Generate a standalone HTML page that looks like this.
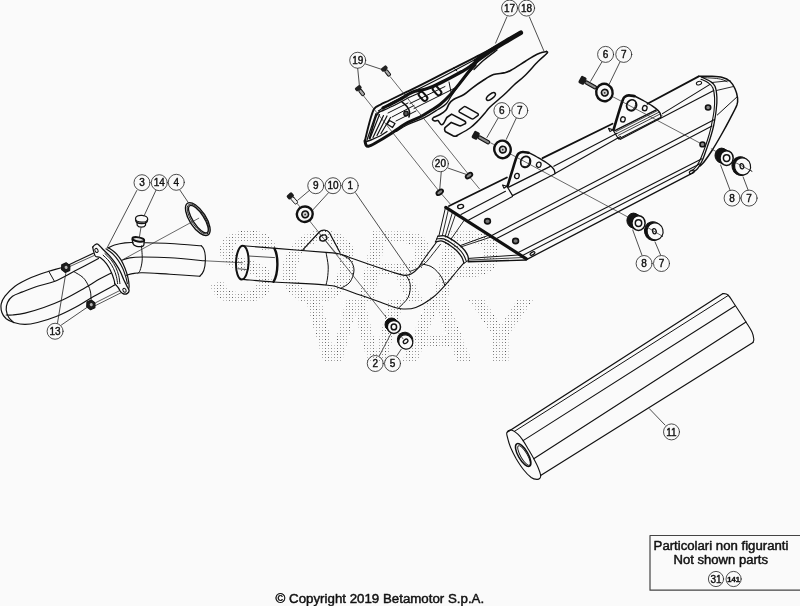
<!DOCTYPE html>
<html><head><meta charset="utf-8"><title>Exhaust</title>
<style>
html,body{margin:0;padding:0;background:#fafafa;}
svg{display:block;will-change:transform}
text{font-family:"Liberation Sans",sans-serif}
</style></head><body>
<svg width="800" height="606" viewBox="0 0 800 606" stroke-linecap="round" stroke-linejoin="round">
<rect width="800" height="606" fill="#fafafa"/>
<defs><pattern id="dots" width="12" height="12" patternUnits="userSpaceOnUse"><rect x="1" y="0" width="1" height="1" fill="#808080"/><rect x="4" y="0" width="1" height="1" fill="#a6a6a6"/><rect x="7" y="0" width="1" height="1" fill="#929292"/><rect x="10" y="0" width="1" height="1" fill="#b6b6b6"/><rect x="1" y="3" width="1" height="1" fill="#505050"/><rect x="4" y="3" width="1" height="1" fill="#9c9c9c"/><rect x="7" y="3" width="1" height="1" fill="#8a8a8a"/><rect x="10" y="3" width="1" height="1" fill="#aeaeae"/><rect x="1" y="6" width="1" height="1" fill="#727272"/><rect x="4" y="6" width="1" height="1" fill="#a2a2a2"/><rect x="7" y="6" width="1" height="1" fill="#c2c2c2"/><rect x="10" y="6" width="1" height="1" fill="#8c8c8c"/><rect x="1" y="9" width="1" height="1" fill="#9a9a9a"/><rect x="4" y="9" width="1" height="1" fill="#626262"/><rect x="7" y="9" width="1" height="1" fill="#b2b2b2"/><rect x="10" y="9" width="1" height="1" fill="#969696"/></pattern></defs>
<g font-weight="bold" fill="url(#dots)" style="font-family:'Liberation Sans',sans-serif">
<text x="209" y="301.5" font-size="102" font-style="italic" textLength="290" lengthAdjust="spacingAndGlyphs">SORP</text>
<text x="305" y="363" font-size="94" textLength="231" lengthAdjust="spacingAndGlyphs">WAY</text>
</g>
<path d="M93.3 253.3 C90.8 254.5 82.7 258.3 78.0 260.5 C73.3 262.7 69.9 264.7 65.0 266.5 C60.1 268.3 54.4 269.4 48.8 271.2 C43.1 273.1 36.9 275.0 31.2 277.5 C25.6 280.0 19.4 283.1 15.0 286.2 C10.6 289.4 7.3 293.3 5.0 296.2 C2.7 299.2 1.8 301.0 1.2 303.8 C0.7 306.5 1.1 310.0 1.9 312.5 C2.7 315.0 4.3 317.1 6.2 318.8 C8.2 320.4 10.6 321.6 13.8 322.5 C16.9 323.4 21.0 324.4 25.0 324.4 C29.0 324.4 32.3 323.8 37.5 322.5 C42.7 321.2 50.0 319.0 56.2 316.5 C62.5 314.0 69.2 310.6 75.0 307.5 C80.8 304.4 84.4 301.8 91.0 298.0 C97.6 294.2 110.8 287.2 114.7 285.0" stroke="#111" stroke-width="1.2" fill="none" />
<path d="M98.5 258.5 C94.5 260.6 81.5 267.5 74.2 271.3 C67.0 275.1 61.1 278.8 55.0 281.2 C48.9 283.7 42.9 284.5 37.5 286.2 C32.1 288.0 26.7 290.2 22.5 291.9 C18.3 293.6 15.0 294.5 12.5 296.2 C10.0 298.0 8.5 300.2 7.5 302.5 C6.5 304.8 6.0 307.5 6.2 310.0 C6.5 312.5 7.5 315.4 8.8 317.5 C10.0 319.6 12.9 321.7 13.8 322.5" stroke="#111" stroke-width="1.2" fill="none" />
<path d="M111.2 272.9 C109.3 273.9 105.0 275.9 100.0 278.8 C95.0 281.6 87.5 286.5 81.2 290.0 C75.0 293.5 68.8 297.1 62.5 300.0 C56.2 302.9 50.0 305.3 43.8 307.5 C37.5 309.7 30.2 311.9 25.0 313.1 C19.8 314.4 15.6 314.7 12.5 315.0 C9.4 315.3 7.3 315.0 6.2 315.0" stroke="#111" stroke-width="1.1" fill="none" />
<line x1="48.75" y1="271.25" x2="54.4" y2="281.25" stroke="#111" stroke-width="1.0"/>
<path d="M74.2 271.8 C75.7 272.8 80.7 275.3 83.0 277.5 C85.3 279.7 86.8 282.6 88.1 285.0 C89.3 287.4 90.0 289.7 90.5 292.0 C91.0 294.3 90.9 297.8 91.0 299.0" stroke="#111" stroke-width="1.0" fill="none" />
<line x1="69.6" y1="266.6" x2="93.9" y2="255.6" stroke="#111" stroke-width="0.7"/>
<line x1="96" y1="302.5" x2="119.3" y2="290.8" stroke="#111" stroke-width="0.7"/>
<line x1="95" y1="305.8" x2="121" y2="292.8" stroke="#111" stroke-width="0.7"/>
<g transform="translate(65.75 267.6) rotate(-25)"><polygon points="-4.6,0 -2.4,-4.3 2.4,-4.3 4.6,0 2.4,4.3 -2.4,4.3" fill="#1d1d1d" stroke="#111" stroke-width="1.1"/><ellipse cx="0.4" cy="0" rx="1.5" ry="1.6" fill="#b5b5b5"/></g>
<g transform="translate(90.9 304.9) rotate(-25)"><polygon points="-4.6,0 -2.4,-4.3 2.4,-4.3 4.6,0 2.4,4.3 -2.4,4.3" fill="#1d1d1d" stroke="#111" stroke-width="1.1"/><ellipse cx="0.4" cy="0" rx="1.5" ry="1.6" fill="#b5b5b5"/></g>
<path d="M92.7 247.1 C93.1 246.7 94.1 245.3 95.0 244.8 C95.9 244.3 96.6 243.4 97.9 244.2 C99.2 245.0 101.1 247.5 103.1 249.5 C105.1 251.5 107.9 254.0 110.0 256.4 C112.1 258.8 114.0 261.3 115.8 263.9 C117.5 266.5 119.2 269.3 120.5 272.0 C121.8 274.7 122.8 277.5 123.9 280.0 C125.1 282.5 126.5 285.2 127.4 287.0 C128.3 288.8 129.1 289.4 129.1 290.5 C129.1 291.6 128.3 292.8 127.4 293.4 C126.5 294.0 125.1 294.3 123.9 294.0 C122.8 293.7 121.5 292.7 120.5 291.6 C119.5 290.5 119.2 288.9 118.2 287.6 C117.2 286.3 115.3 284.3 114.7 283.6" stroke="#111" stroke-width="1.3" fill="none" />
<path d="M92.7 247.1 C92.9 248.0 93.4 250.8 93.9 252.3 C94.4 253.9 94.5 255.5 95.6 256.4 C96.6 257.3 98.4 256.2 100.2 257.5 C102.0 258.8 104.8 261.5 106.6 263.9 C108.4 266.3 110.0 269.3 111.2 272.0 C112.5 274.7 113.5 278.2 114.1 280.1 C114.7 282.0 114.6 283.0 114.7 283.6" stroke="#111" stroke-width="1.2" fill="none" />
<path d="M103.1 255.2 C104.1 256.2 107.2 258.8 108.9 261.0 C110.6 263.2 112.2 265.9 113.5 268.5 C114.8 271.1 115.7 274.1 116.4 276.6 C117.1 279.1 117.4 282.4 117.6 283.6" stroke="#111" stroke-width="1.0" fill="none" />
<path d="M104.9 253.5 C106.0 254.6 109.4 257.6 111.2 259.9 C113.0 262.2 114.5 264.8 115.8 267.4 C117.0 270.0 118.0 272.8 118.7 275.5 C119.4 278.2 119.7 282.2 119.9 283.6" stroke="#111" stroke-width="1.0" fill="none" />
<path d="M106.0 248.9 C107.1 249.7 110.4 251.6 112.4 253.5 C114.4 255.4 116.5 257.9 118.2 260.4 C119.9 262.9 121.5 265.8 122.8 268.5 C124.0 271.2 124.9 274.1 125.7 276.6 C126.5 279.1 127.1 282.4 127.4 283.6" stroke="#111" stroke-width="1.1" fill="none" />
<path d="M108.3 247.7 C109.4 248.5 112.6 250.3 114.7 252.3 C116.8 254.3 119.3 257.2 121.0 259.9 C122.7 262.6 123.9 265.5 125.1 268.5 C126.3 271.5 127.3 274.9 128.0 277.8 C128.7 280.7 129.0 284.0 129.1 285.9 C129.2 287.8 128.7 288.5 128.6 289.0" stroke="#111" stroke-width="1.2" fill="none" />
<ellipse cx="96.5" cy="250.4" rx="1.5" ry="2.1" stroke="#111" stroke-width="1.0" fill="none" transform="rotate(-30 96.5 250.4)"/>
<ellipse cx="124.5" cy="290.3" rx="1.5" ry="2.1" stroke="#111" stroke-width="1.0" fill="none" transform="rotate(-30 124.5 290.3)"/>
<path d="M107.8 248.0 C108.9 247.5 111.6 245.8 114.5 245.0 C117.4 244.2 121.9 243.3 125.0 242.9 C128.1 242.5 131.7 242.6 133.0 242.5" stroke="#111" stroke-width="1.1" fill="none" />
<path d="M144.5 242.7 C148.8 242.8 160.5 243.0 170.0 243.5 C179.5 244.0 196.0 245.4 201.2 245.8" stroke="#111" stroke-width="1.1" fill="none" />
<path d="M122.0 260.3 C123.2 259.9 126.0 258.4 129.5 257.9 C133.0 257.3 136.2 257.0 143.0 257.0 C149.8 257.0 159.7 257.1 170.0 257.8 C180.3 258.4 199.2 260.3 205.0 260.8" stroke="#111" stroke-width="1.1" fill="none" />
<path d="M126.5 275.3 C127.5 275.0 129.8 274.0 132.5 273.6 C135.2 273.2 136.8 272.6 143.0 272.8 C149.2 272.9 160.5 273.7 170.0 274.2 C179.5 274.8 194.8 275.9 199.8 276.2" stroke="#111" stroke-width="1.1" fill="none" />
<path d="M201.25 245.8 C207 250 207 271 199.75 276.25" stroke="#111" stroke-width="1.1" fill="none" />
<path d="M141.5 246.0 C141.6 248.3 142.5 255.9 142.2 260.0 C142.0 264.1 140.8 268.3 140.0 270.5 C139.2 272.7 138.1 272.8 137.8 273.2" stroke="#111" stroke-width="1.0" fill="none" />
<line x1="205" y1="260.8" x2="242.5" y2="262.75" stroke="#2a2a2a" stroke-width="0.7"/>
<path d="M132.2 239.6 L132.9 243.6 C134 246.4 139 247 141.6 246.5 C143 246.2 143.7 245.6 143.9 244.8 L144.2 240.6" stroke="#111" stroke-width="1.3" fill="none" />
<ellipse cx="138.3" cy="239.4" rx="6.0" ry="2.1" stroke="#111" stroke-width="1.9" fill="#e4e4e4" transform="rotate(9 138.3 239.4)"/>
<path d="M137 222.6 L137.2 225.2 C138.5 227.9 144.2 227.9 145.5 225.2 L145.6 222.6" stroke="#111" stroke-width="1.2" fill="none" />
<path d="M135.5 219.6 C135.9 225 147.3 225 147.7 219.6" stroke="#111" stroke-width="1.2" fill="#fafafa" />
<ellipse cx="141.6" cy="218.7" rx="6.1" ry="3.4" stroke="#111" stroke-width="1.2" fill="#fafafa" transform="rotate(3 141.6 218.7)"/>
<line x1="140.9" y1="227.8" x2="139.4" y2="237.2" stroke="#2a2a2a" stroke-width="0.8"/>
<ellipse cx="197.8" cy="219.1" rx="18.9" ry="8.1" stroke="#111" stroke-width="1.4" fill="none" transform="rotate(57 197.8 219.1)"/>
<ellipse cx="198.1" cy="219.1" rx="17.3" ry="6.7" stroke="#111" stroke-width="0.8" fill="none" transform="rotate(57 198.1 219.1)"/>
<ellipse cx="198.4" cy="219.1" rx="16.0" ry="5.5" stroke="#111" stroke-width="1.3" fill="none" transform="rotate(57 198.4 219.1)"/>
<line x1="198.75" y1="218.25" x2="123.5" y2="259.25" stroke="#2a2a2a" stroke-width="0.7"/>
<ellipse cx="242.3" cy="262.6" rx="6.3" ry="16.9" stroke="#111" stroke-width="2.0" fill="none" transform="rotate(2 242.3 262.6)"/>
<path d="M243.3 245.8 C248.8 246.2 262.2 247.3 276.0 248.4 C289.8 249.5 315.3 251.5 326.0 252.4 C336.7 253.3 335.3 252.9 340.0 254.0 C344.7 255.1 347.3 256.7 354.0 259.0 C360.7 261.3 372.3 265.4 380.0 268.0 C387.7 270.6 395.7 273.2 400.0 274.4 C404.3 275.6 404.1 275.4 406.0 275.3 C407.9 275.2 409.5 274.9 411.5 273.7 C413.5 272.5 415.8 270.8 417.9 268.3 C420.0 265.8 422.1 261.8 424.3 258.7 C426.5 255.6 429.0 252.2 431.0 249.5 C433.0 246.8 435.3 243.7 436.2 242.5" stroke="#111" stroke-width="1.1" fill="none" />
<path d="M242.5 279.4 C247.8 279.8 260.1 281.1 274.0 282.0 C287.9 282.9 315.0 284.0 326.0 285.0 C337.0 286.0 334.3 286.3 340.0 288.0 C345.7 289.7 353.3 292.7 360.0 295.0 C366.7 297.3 374.3 300.0 380.0 302.0 C385.7 304.0 390.2 306.0 394.0 307.2 C397.8 308.4 399.4 308.9 403.0 309.0 C406.6 309.1 410.8 309.4 415.8 307.5 C420.8 305.6 428.0 301.2 433.0 297.3 C438.0 293.4 441.9 288.7 445.8 284.4 C449.7 280.1 453.6 275.0 456.5 271.5 C459.4 268.0 462.3 264.7 463.5 263.3" stroke="#111" stroke-width="1.1" fill="none" />
<path d="M274.5 248.6 C278.5 256 278.5 274 273.5 281.8" stroke="#111" stroke-width="2.4" fill="none" />
<line x1="248.5" y1="256" x2="274.5" y2="257.6" stroke="#222" stroke-width="0.8"/>
<line x1="238" y1="268.75" x2="246.25" y2="269.5" stroke="#222" stroke-width="0.8"/>
<path d="M326.0 252.4 C326.4 254.7 327.9 261.7 328.2 266.0 C328.4 270.3 327.9 274.8 327.5 278.0 C327.1 281.2 326.2 283.8 326.0 285.0" stroke="#111" stroke-width="1.0" fill="none" />
<path d="M340.0 254.0 C341.7 255.0 347.7 257.3 350.0 260.0 C352.3 262.7 354.0 266.3 354.0 270.0 C354.0 273.7 352.2 279.0 350.0 282.0 C347.8 285.0 342.5 287.2 341.0 288.2" stroke="#111" stroke-width="1.0" fill="none" />
<path d="M406.0 275.0 C406.7 276.6 409.8 280.7 410.2 284.4 C410.6 288.1 410.1 293.4 408.2 297.3 C406.3 301.2 400.2 306.2 398.6 308.0" stroke="#111" stroke-width="1.0" fill="none" />
<path d="M422.2 264.0 C423.7 264.4 428.5 265.2 431.0 266.5 C433.5 267.8 435.4 269.6 437.2 271.5 C439.0 273.4 440.8 275.8 442.0 278.0 C443.2 280.2 444.2 283.8 444.7 285.0" stroke="#111" stroke-width="1.0" fill="none" />
<path d="M410.0 271.3 C411.0 270.9 413.5 270.3 416.0 269.0 C418.5 267.7 422.2 265.8 425.0 263.2 C427.8 260.7 430.4 256.9 433.0 253.7 C435.6 250.5 439.2 245.8 440.5 244.2" stroke="#111" stroke-width="0.9" fill="none" />
<path d="M303 249.7 L319.3 232 C321.5 229.3 327 229.3 329.3 232.5 L339.8 252.3" stroke="#111" stroke-width="1.2" fill="none" />
<ellipse cx="323.3" cy="238" rx="3.6" ry="2.9" stroke="#111" stroke-width="1.4" fill="none" transform="rotate(-20 323.3 238)"/>
<line x1="309.7" y1="221" x2="386.5" y2="317.7" stroke="#2a2a2a" stroke-width="0.7"/>
<line x1="325.5" y1="240.5" x2="337.5" y2="255" stroke="#2a2a2a" stroke-width="0.7"/>
<g transform="translate(290.7 196.4) rotate(49)"><rect x="-3.2" y="-3.4" width="5.2" height="6.8" rx="1.6" fill="#1c1c1c"/><rect x="1.6" y="-1.7" width="7.6" height="3.4" rx="1" fill="#f0f0f0" stroke="#111" stroke-width="0.9"/></g>
<line x1="297" y1="203.25" x2="300" y2="207" stroke="#2a2a2a" stroke-width="0.7"/>
<g transform="rotate(-20 304.8 214.2)">
<ellipse cx="304.8" cy="214.2" rx="8" ry="7.7" fill="#fafafa" stroke="#111" stroke-width="2.4"/>
<ellipse cx="305.1" cy="214.5" rx="3.3" ry="3.3" fill="#cfcfcf" stroke="#111" stroke-width="1.7"/>
<ellipse cx="305.0" cy="214.6" rx="0.9" ry="0.9" fill="#333" stroke="none"/>
</g>
<ellipse cx="391.59999999999997" cy="324.5" rx="6.6" ry="6.5" fill="#151515" stroke="#111" stroke-width="1"/>
<ellipse cx="392.75" cy="325.7" rx="6.6" ry="6.5" fill="#151515" stroke="#111" stroke-width="1"/>
<ellipse cx="393.9" cy="326.9" rx="6.6" ry="6.5" fill="#fafafa" stroke="#111" stroke-width="1.5"/>
<ellipse cx="393.9" cy="326.9" rx="2.7" ry="2.9000000000000004" fill="#fafafa" stroke="#111" stroke-width="1.5"/>
<g transform="rotate(50 405.6 341.3)">
<ellipse cx="404.40000000000003" cy="340.90000000000003" rx="8" ry="7.6" fill="#111" stroke="#111" stroke-width="1"/>
<ellipse cx="406.20000000000005" cy="341.6" rx="7.4" ry="6.8" fill="#fafafa" stroke="#111" stroke-width="1.2"/>
<ellipse cx="405.6" cy="341.3" rx="1.8" ry="2.6" fill="#fafafa" stroke="#111" stroke-width="1.3"/>
</g>
<line x1="399" y1="333.5" x2="403" y2="338.8" stroke="#2a2a2a" stroke-width="0.7"/>
<path d="M445.6 207.3 L698.75 76.3 L712 76.3 L722.5 77.5 L730 81.25 L735 88.75 L737.5 97.5 L736.9 105 L730 118.75 L721.25 135 L712 150.5 L704 162 L690 174.4 L527 259.3 Z" fill="#fafafa" stroke="none"/>
<line x1="449" y1="206" x2="506.9" y2="177.5" stroke="#111" stroke-width="1.8"/>
<line x1="542.5" y1="158.1" x2="612.5" y2="123.75" stroke="#111" stroke-width="1.8"/>
<line x1="647.5" y1="103.75" x2="698.75" y2="76.4" stroke="#111" stroke-width="1.8"/>
<line x1="461" y1="214.5" x2="505.5" y2="191.3" stroke="#111" stroke-width="1.1"/>
<line x1="553.8" y1="166.2" x2="617" y2="133.3" stroke="#111" stroke-width="1.1"/>
<line x1="662.5" y1="113.6" x2="710" y2="84.4" stroke="#111" stroke-width="1.1"/>
<line x1="468.7" y1="219.9" x2="512.5" y2="196.6" stroke="#111" stroke-width="1.1"/>
<line x1="555" y1="173.4" x2="620.5" y2="136.5" stroke="#111" stroke-width="1.1"/>
<line x1="661.9" y1="115.2" x2="661.9" y2="115.2" stroke="#111" stroke-width="1.1"/>
<line x1="620" y1="139.5" x2="713.75" y2="90.6" stroke="#111" stroke-width="1.1"/>
<line x1="491.8" y1="235.4" x2="714.5" y2="119.5" stroke="#111" stroke-width="1.1"/>
<line x1="496.6" y1="238.6" x2="712" y2="126" stroke="#111" stroke-width="1.1"/>
<line x1="517.8" y1="252.8" x2="701.9" y2="158.75" stroke="#111" stroke-width="1.1"/>
<line x1="522.1" y1="255.7" x2="700" y2="163.75" stroke="#111" stroke-width="1.1"/>
<line x1="527" y1="259.3" x2="690" y2="174.4" stroke="#111" stroke-width="1.3"/>
<path d="M690.0 174.4 C691.2 173.5 695.4 171.2 697.5 168.8 C699.6 166.3 700.8 163.8 702.5 160.0 C704.2 156.2 706.0 150.4 707.5 146.2 C709.0 142.1 710.2 138.5 711.2 135.0 C712.3 131.5 712.9 129.2 713.8 125.0 C714.6 120.8 715.7 114.6 716.2 110.0 C716.8 105.4 717.1 101.5 716.9 97.5 C716.7 93.5 716.1 89.0 715.0 86.2 C713.9 83.5 712.3 82.8 710.0 81.2 C707.7 79.7 702.7 77.6 701.2 76.9" stroke="#111" stroke-width="1.3" fill="none" />
<path d="M692.0 171.0 C692.8 170.1 695.6 167.5 697.0 165.5 C698.4 163.5 699.1 162.2 700.5 159.0 C701.9 155.8 703.9 150.5 705.3 146.5 C706.7 142.5 708.0 138.6 709.0 135.0 C710.0 131.4 710.7 129.0 711.5 125.0 C712.3 121.0 713.5 115.5 714.0 111.0 C714.5 106.5 714.8 101.8 714.6 98.0 C714.4 94.2 713.9 90.5 712.9 88.0 C711.9 85.5 710.5 84.5 708.5 83.0 C706.5 81.5 702.2 79.8 701.0 79.2" stroke="#111" stroke-width="1.1" fill="none" />
<line x1="445.8" y1="207.4" x2="526.3" y2="258.8" stroke="#111" stroke-width="3.2"/>
<path d="M698.8 76.2 C701.0 76.3 708.0 76.1 712.0 76.3 C716.0 76.5 719.5 76.7 722.5 77.5 C725.5 78.3 727.9 79.4 730.0 81.2 C732.1 83.1 733.8 86.0 735.0 88.8 C736.2 91.5 737.2 94.8 737.5 97.5 C737.8 100.2 738.1 101.5 736.9 105.0 C735.6 108.5 732.6 113.8 730.0 118.8 C727.4 123.8 724.2 129.7 721.2 135.0 C718.2 140.3 714.9 146.0 712.0 150.5 C709.1 155.0 706.0 159.4 704.0 162.0 C702.0 164.6 700.7 165.3 700.0 166.0" stroke="#111" stroke-width="1.5" fill="none" />
<path d="M702.0 77.6 C704.0 77.7 710.7 77.9 714.0 78.2 C717.3 78.5 719.8 78.9 722.0 79.5 C724.2 80.1 726.2 81.4 727.0 81.8" stroke="#111" stroke-width="0.9" fill="none" />
<line x1="712" y1="82.5" x2="730" y2="80.6" stroke="#111" stroke-width="0.9"/>
<line x1="716.5" y1="90.5" x2="733.5" y2="86.5" stroke="#111" stroke-width="0.9"/>
<line x1="717.3" y1="115" x2="736.9" y2="97" stroke="#111" stroke-width="1.0"/>
<ellipse cx="699" cy="83.1" rx="2.7" ry="1.7" stroke="#111" stroke-width="1.0" fill="none" transform="rotate(-15 699 83.1)"/>
<ellipse cx="708.1" cy="107.5" rx="2.6" ry="2.5" stroke="#111" stroke-width="1.6" fill="#888"/>
<ellipse cx="702.5" cy="144.4" rx="2.5" ry="2.4" stroke="#111" stroke-width="1.6" fill="#888"/>
<ellipse cx="691.9" cy="171.9" rx="2.7" ry="1.5" stroke="#111" stroke-width="1.2" fill="none" transform="rotate(-30 691.9 171.9)"/>
<ellipse cx="460.6" cy="206.5" rx="3.0" ry="2.0" stroke="#111" stroke-width="1.4" fill="none" transform="rotate(-15 460.6 206.5)"/>
<ellipse cx="487.5" cy="221.25" rx="2.9" ry="2.6" stroke="#111" stroke-width="1.6" fill="#777"/>
<ellipse cx="515.6" cy="241" rx="2.9" ry="2.6" stroke="#111" stroke-width="1.6" fill="#777"/>
<ellipse cx="532.5" cy="253.5" rx="2.6" ry="1.3" stroke="#111" stroke-width="1.2" fill="none" transform="rotate(-28 532.5 253.5)"/>
<line x1="438.9" y1="235.9" x2="445.3" y2="208.3" stroke="#111" stroke-width="1.0"/>
<line x1="442.25" y1="235.9" x2="448.3" y2="210" stroke="#111" stroke-width="0.9"/>
<line x1="445.25" y1="236.25" x2="452.6" y2="211.8" stroke="#111" stroke-width="0.9"/>
<line x1="447.5" y1="237.4" x2="455.5" y2="214.5" stroke="#111" stroke-width="0.9"/>
<line x1="451" y1="239.2" x2="464" y2="220.5" stroke="#111" stroke-width="0.9"/>
<line x1="460.25" y1="245.6" x2="490" y2="234.8" stroke="#111" stroke-width="1.0"/>
<line x1="461" y1="246.9" x2="489.8" y2="237.4" stroke="#111" stroke-width="0.9"/>
<line x1="468.5" y1="258.4" x2="520" y2="254.9" stroke="#111" stroke-width="1.0"/>
<line x1="468.1" y1="261.75" x2="526.25" y2="260" stroke="#111" stroke-width="1.3"/>
<line x1="468.3" y1="260.1" x2="523" y2="257.5" stroke="#111" stroke-width="0.8"/>
<path d="M437.8 236.2 C438.9 236.2 442.1 235.3 444.5 235.9 C446.9 236.5 449.6 238.2 452.0 239.6 C454.4 241.0 456.6 242.7 458.8 244.5 C460.9 246.3 463.2 248.6 464.8 250.5 C466.2 252.4 467.1 254.1 467.8 255.8 C468.4 257.4 468.4 259.5 468.5 260.2" stroke="#111" stroke-width="1.3" fill="none" />
<path d="M437.0 238.9 C438.1 238.9 441.4 238.2 443.8 238.9 C446.1 239.6 448.9 241.4 451.2 243.0 C453.6 244.6 456.0 246.4 458.0 248.2 C460.0 250.1 461.9 252.1 463.2 254.2 C464.6 256.4 465.8 259.9 466.2 261.0" stroke="#111" stroke-width="1.1" fill="none" />
<path d="M435.5 241.9 C436.6 241.8 439.9 240.5 442.2 241.1 C444.6 241.7 447.4 243.7 449.8 245.2 C452.1 246.8 454.5 248.5 456.5 250.5 C458.5 252.5 460.5 255.1 461.8 257.2 C463.0 259.4 463.6 262.2 464.0 263.2" stroke="#111" stroke-width="1.3" fill="none" />
<line x1="437.75" y1="236.25" x2="435.5" y2="241.9" stroke="#111" stroke-width="1.0"/>
<line x1="468.5" y1="260.25" x2="464" y2="263.25" stroke="#111" stroke-width="1.0"/>
<path d="M507.6 186.2 C508.3 183.8 510.5 176.4 512.0 171.5 C513.5 166.6 515.6 159.6 516.8 156.6 C518.0 153.6 518.0 154.1 519.0 153.3 C520.0 152.5 521.2 152.1 522.8 152.0 C524.4 151.9 527.5 152.6 528.5 152.7" stroke="#111" stroke-width="2.6" fill="none" />
<path d="M528.5 152.6 C529.9 153.3 534.0 155.3 537.0 157.0 C540.0 158.7 543.8 160.8 546.2 162.5 C548.7 164.2 550.6 165.7 551.9 166.9 C553.2 168.2 553.7 168.9 554.2 170.0 C554.7 171.1 554.9 172.8 555.0 173.3" stroke="#111" stroke-width="1.4" fill="none" />
<polyline points="506.9,186.2 512.5,195.6 555.0,173.8" stroke="#111" stroke-width="1.2" fill="none"/>
<line x1="508.75" y1="187.2" x2="550.3" y2="166.4" stroke="#111" stroke-width="1.3"/>
<ellipse cx="525.6" cy="161.9" rx="4.9" ry="5.6" stroke="#111" stroke-width="1.7" fill="none" transform="rotate(20 525.6 161.9)"/>
<path d="M523.3 166.3 C526 168 530 165 529.6 159.5" stroke="#111" stroke-width="1.0" fill="none" />
<ellipse cx="538.75" cy="164.75" rx="2.3" ry="2.6" stroke="#111" stroke-width="1.3" fill="none" transform="rotate(15 538.75 164.75)"/>
<ellipse cx="516.9" cy="176" rx="2.3" ry="2.6" stroke="#111" stroke-width="1.3" fill="none" transform="rotate(15 516.9 176)"/>
<path d="M506.9 186.3 L502.5 185 L504 188.2 Z" stroke="#111" stroke-width="1.1" fill="none" />
<path d="M613.6 129.6 C614.3 127.1 616.5 119.8 618.0 114.9 C619.5 110.0 621.6 103.0 622.8 100.0 C624.0 97.0 624.0 97.5 625.0 96.7 C626.0 95.9 627.2 95.5 628.8 95.4 C630.4 95.3 633.5 96.0 634.5 96.1" stroke="#111" stroke-width="2.6" fill="none" />
<path d="M634.5 96.0 C635.9 96.7 640.0 98.8 643.0 100.4 C646.0 102.1 649.8 104.2 652.2 105.9 C654.7 107.6 656.6 109.1 657.9 110.3 C659.2 111.6 659.7 112.3 660.2 113.4 C660.7 114.5 660.9 116.2 661.0 116.7" stroke="#111" stroke-width="1.4" fill="none" />
<polyline points="612.9,129.7 618.5,139.0 661.0,117.2" stroke="#111" stroke-width="1.2" fill="none"/>
<line x1="614.75" y1="130.6" x2="656.3" y2="109.80000000000001" stroke="#111" stroke-width="1.3"/>
<ellipse cx="631.6" cy="105.30000000000001" rx="4.9" ry="5.6" stroke="#111" stroke-width="1.7" fill="none" transform="rotate(20 631.6 105.30000000000001)"/>
<path d="M629.3 109.70000000000002 C632 111.4 636 108.4 635.6 102.9" stroke="#111" stroke-width="1.0" fill="none" />
<ellipse cx="644.75" cy="108.15" rx="2.3" ry="2.6" stroke="#111" stroke-width="1.3" fill="none" transform="rotate(15 644.75 108.15)"/>
<ellipse cx="622.9" cy="119.4" rx="2.3" ry="2.6" stroke="#111" stroke-width="1.3" fill="none" transform="rotate(15 622.9 119.4)"/>
<path d="M612.9 129.70000000000002 L608.5 128.4 L610 131.6 Z" stroke="#111" stroke-width="1.1" fill="none" />
<line x1="616.0" y1="131.5" x2="657.6999999999999" y2="110.5" stroke="#111" stroke-width="0.8"/>
<line x1="617.1999999999999" y1="133.4" x2="659.0" y2="112.2" stroke="#111" stroke-width="0.8"/>
<line x1="618.4" y1="135.29999999999998" x2="660.3" y2="113.89999999999999" stroke="#111" stroke-width="0.8"/>
<line x1="510" y1="153.75" x2="628.75" y2="217.5" stroke="#2a2a2a" stroke-width="0.7"/>
<line x1="645" y1="226" x2="662.5" y2="236.25" stroke="#2a2a2a" stroke-width="0.7"/>
<line x1="613.1" y1="96.9" x2="700" y2="143.1" stroke="#2a2a2a" stroke-width="0.7"/>
<line x1="711.25" y1="148.75" x2="716" y2="151.5" stroke="#2a2a2a" stroke-width="0.7"/>
<line x1="733.5" y1="161.5" x2="751.9" y2="171.25" stroke="#2a2a2a" stroke-width="0.7"/>
<g transform="translate(583.3 80.8) rotate(29)"><rect x="-4" y="-4" width="6.2" height="8" rx="1.6" fill="#1a1a1a"/><rect x="2.2" y="-1.6" width="12.5" height="3.2" rx="1.2" fill="#8a8a8a" stroke="#111" stroke-width="1.1"/></g>
<g transform="translate(476.5 135.8) rotate(29)"><rect x="-4" y="-4" width="6.2" height="8" rx="1.6" fill="#1a1a1a"/><rect x="2.2" y="-1.6" width="12.5" height="3.2" rx="1.2" fill="#8a8a8a" stroke="#111" stroke-width="1.1"/></g>
<line x1="596.5" y1="88" x2="598" y2="89" stroke="#2a2a2a" stroke-width="0.7"/>
<line x1="490.5" y1="142.8" x2="493.5" y2="144.3" stroke="#2a2a2a" stroke-width="0.7"/>
<g transform="rotate(-15 604.4 92.5)">
<ellipse cx="604.4" cy="92.5" rx="8.2" ry="8.8" fill="#fafafa" stroke="#111" stroke-width="2.4"/>
<ellipse cx="604.6999999999999" cy="92.8" rx="3.3" ry="3.3" fill="#cfcfcf" stroke="#111" stroke-width="1.7"/>
<ellipse cx="604.6" cy="92.9" rx="0.9" ry="0.9" fill="#333" stroke="none"/>
</g>
<g transform="rotate(-15 502.5 149.4)">
<ellipse cx="502.5" cy="149.4" rx="8.2" ry="8.8" fill="#fafafa" stroke="#111" stroke-width="2.4"/>
<ellipse cx="502.8" cy="149.70000000000002" rx="3.3" ry="3.3" fill="#cfcfcf" stroke="#111" stroke-width="1.7"/>
<ellipse cx="502.7" cy="149.8" rx="0.9" ry="0.9" fill="#333" stroke="none"/>
</g>
<ellipse cx="721.6" cy="155.5" rx="6.6" ry="7.4" fill="#151515" stroke="#111" stroke-width="1"/>
<ellipse cx="724.1" cy="156.79999999999998" rx="6.6" ry="7.4" fill="#151515" stroke="#111" stroke-width="1"/>
<ellipse cx="726.6" cy="158.1" rx="6.6" ry="7.4" fill="#fafafa" stroke="#111" stroke-width="1.5"/>
<ellipse cx="726.6" cy="158.1" rx="3.2" ry="3.4000000000000004" fill="#fafafa" stroke="#111" stroke-width="1.5"/>
<g transform="rotate(-15 741.9 166.25)">
<ellipse cx="740.6999999999999" cy="165.85" rx="8.6" ry="9.4" fill="#111" stroke="#111" stroke-width="1"/>
<ellipse cx="742.5" cy="166.55" rx="8.0" ry="8.6" fill="#fafafa" stroke="#111" stroke-width="1.2"/>
<ellipse cx="741.9" cy="166.25" rx="1.8" ry="2.6" fill="#fafafa" stroke="#111" stroke-width="1.3"/>
</g>
<ellipse cx="633.5" cy="220.5" rx="6.6" ry="7.4" fill="#151515" stroke="#111" stroke-width="1"/>
<ellipse cx="636.0" cy="221.79999999999998" rx="6.6" ry="7.4" fill="#151515" stroke="#111" stroke-width="1"/>
<ellipse cx="638.5" cy="223.1" rx="6.6" ry="7.4" fill="#fafafa" stroke="#111" stroke-width="1.5"/>
<ellipse cx="638.5" cy="223.1" rx="3.2" ry="3.4000000000000004" fill="#fafafa" stroke="#111" stroke-width="1.5"/>
<g transform="rotate(-15 654.4 231.25)">
<ellipse cx="653.1999999999999" cy="230.85" rx="8.6" ry="9.4" fill="#111" stroke="#111" stroke-width="1"/>
<ellipse cx="655.0" cy="231.55" rx="8.0" ry="8.6" fill="#fafafa" stroke="#111" stroke-width="1.2"/>
<ellipse cx="654.4" cy="231.25" rx="1.8" ry="2.6" fill="#fafafa" stroke="#111" stroke-width="1.3"/>
</g>
<line x1="733.5" y1="161.5" x2="751.9" y2="171.25" stroke="#2a2a2a" stroke-width="0.7"/>
<line x1="645" y1="226" x2="662.5" y2="236.25" stroke="#2a2a2a" stroke-width="0.7"/>
<path d="M365.0 140.5 C365.5 138.4 367.0 131.9 368.0 128.0 C369.0 124.1 370.1 120.0 371.0 117.0 C371.9 114.0 372.7 111.7 373.5 110.0 C374.3 108.3 374.8 108.0 376.0 107.0 C377.2 106.0 378.7 105.5 381.0 104.3 C383.3 103.1 385.5 102.2 390.0 100.0 C394.5 97.8 401.3 94.6 408.0 91.3 C414.7 88.0 422.2 84.3 430.0 80.3 C437.8 76.3 446.7 71.8 455.0 67.5 C463.3 63.2 472.5 58.7 480.0 54.8 C487.5 50.9 493.2 47.8 500.0 44.0 C506.8 40.2 517.2 33.9 520.6 31.9" stroke="#111" stroke-width="1.9" fill="none" />
<path d="M369.5 138.5 C370.1 136.4 371.9 129.7 373.0 126.0 C374.1 122.3 375.1 118.8 376.0 116.5 C376.9 114.2 377.3 113.5 378.5 112.5 C379.7 111.5 382.2 110.8 383.0 110.5" stroke="#111" stroke-width="1.7" fill="none" />
<path d="M378.5 110.8 C380.4 109.6 385.1 106.2 390.0 103.5 C394.9 100.8 401.3 97.7 408.0 94.3 C414.7 90.9 422.2 87.2 430.0 83.2 C437.8 79.2 447.0 74.4 455.0 70.2 C463.0 66.0 474.2 60.0 478.0 58.0" stroke="#111" stroke-width="1.2" fill="none" />
<line x1="453.5" y1="67.8" x2="457" y2="71" stroke="#111" stroke-width="1.0"/>
<path d="M383.0 108.0 C384.5 107.2 389.2 105.0 392.0 103.5 C394.8 102.0 397.3 100.8 400.0 99.3 C402.7 97.8 405.5 95.8 408.0 94.5 C410.5 93.2 412.2 92.2 415.0 91.3 C417.8 90.4 421.3 90.4 425.0 89.3 C428.7 88.2 432.8 86.4 437.0 84.5 C441.2 82.6 445.8 80.2 450.0 78.0 C454.2 75.8 458.7 73.4 462.0 71.5 C465.3 69.6 467.0 68.7 470.0 66.5 C473.0 64.3 478.3 59.8 480.0 58.5" stroke="#111" stroke-width="3.2" fill="none" />
<path d="M383.0 110.5 C385.0 109.6 390.5 107.2 395.0 105.0 C399.5 102.8 406.2 98.9 410.0 97.0 C413.8 95.1 416.7 94.1 418.0 93.5" stroke="#111" stroke-width="1.2" fill="none" />
<path d="M365.0 141.0 C365.2 141.7 365.4 144.1 366.0 145.0 C366.6 145.9 367.0 146.6 368.5 146.3 C370.0 146.0 371.4 145.3 375.0 143.3 C378.6 141.3 385.0 137.5 390.0 134.3 C395.0 131.1 400.0 126.9 405.0 124.0 C410.0 121.1 415.8 119.2 420.0 117.0 C424.2 114.8 426.7 113.1 430.0 111.0 C433.3 108.9 436.7 107.2 440.0 104.5 C443.3 101.8 446.7 98.6 450.0 95.0 C453.3 91.4 456.7 87.2 460.0 83.0 C463.3 78.8 466.7 74.2 470.0 70.0 C473.3 65.8 478.3 59.6 480.0 57.5" stroke="#111" stroke-width="3.0" fill="none" />
<path d="M476.0 61.0 C478.0 59.6 483.2 55.7 488.0 52.5 C492.8 49.3 499.5 45.3 505.0 42.0 C510.5 38.7 518.2 34.2 520.8 32.7" stroke="#111" stroke-width="4.6" fill="none" />
<path d="M474.0 69.5 C475.7 67.9 480.2 63.2 484.0 60.0 C487.8 56.8 494.8 51.7 497.0 50.0" stroke="#111" stroke-width="1.4" fill="none" />
<path d="M476.0 65.0 C474.3 66.8 469.0 72.5 466.0 76.0 C463.0 79.5 460.5 82.6 458.0 86.0 C455.5 89.4 453.0 93.5 451.0 96.5 C449.0 99.5 448.2 101.8 446.0 104.0 C443.8 106.2 441.7 107.2 438.0 109.5 C434.3 111.8 429.0 115.3 424.0 117.8 C419.0 120.3 412.7 122.2 408.0 124.5 C403.3 126.8 398.0 130.3 396.0 131.5" stroke="#111" stroke-width="1.3" fill="none" />
<line x1="367" y1="140" x2="376" y2="113.5" stroke="#111" stroke-width="1.2"/>
<line x1="370" y1="138.5" x2="379.5" y2="114.5" stroke="#111" stroke-width="1.2"/>
<line x1="373" y1="137.5" x2="383.5" y2="115.5" stroke="#111" stroke-width="1.2"/>
<line x1="377" y1="135.5" x2="387" y2="116" stroke="#111" stroke-width="1.2"/>
<line x1="381" y1="133.5" x2="390.5" y2="117.5" stroke="#111" stroke-width="1.2"/>
<path d="M366.5 141.5 C367.4 141.2 369.8 140.4 372.0 139.5 C374.2 138.6 377.5 137.3 380.0 136.0 C382.5 134.7 385.8 132.2 387.0 131.5" stroke="#111" stroke-width="1.4" fill="none" />
<line x1="388" y1="113" x2="408" y2="103" stroke="#111" stroke-width="1.0"/>
<line x1="392" y1="117" x2="414" y2="105.5" stroke="#111" stroke-width="1.0"/>
<line x1="396" y1="121" x2="416" y2="111" stroke="#111" stroke-width="1.0"/>
<line x1="410" y1="103.5" x2="445" y2="86.5" stroke="#111" stroke-width="1.0"/>
<line x1="414" y1="108.5" x2="456" y2="87.5" stroke="#111" stroke-width="1.0"/>
<line x1="400" y1="99.5" x2="452" y2="91.5" stroke="#111" stroke-width="0.0"/>
<path d="M387 124 L389.5 120.5 L395 123.5 L392.5 127.5 Z" stroke="#111" stroke-width="1.4" fill="none" />
<path d="M401.5 101.5 C402.4 102.3 405.7 104.8 407.0 106.5 C408.3 108.2 409.2 110.2 409.5 112.0 C409.8 113.8 409.1 116.2 409.0 117.0" stroke="#111" stroke-width="1.6" fill="none" />
<ellipse cx="406" cy="113.6" rx="2.2" ry="2.4" stroke="#111" stroke-width="1.3" fill="#555"/>
<g transform="rotate(48 423 96.3)"><rect x="417.8" y="93.7" width="10.4" height="5.2" rx="2.6" fill="none" stroke="#111" stroke-width="2"/></g>
<g transform="rotate(48 437 90.7)"><rect x="431.8" y="88.10000000000001" width="10.4" height="5.2" rx="2.6" fill="none" stroke="#111" stroke-width="2"/></g>
<line x1="449" y1="82" x2="451" y2="92" stroke="#111" stroke-width="1.0"/>
<path d="M546.5 51.6 C545.5 51.8 543.0 51.9 540.8 52.8 C538.5 53.6 535.6 55.0 533.0 56.5 C530.4 58.0 528.7 59.2 525.0 61.5 C521.3 63.8 514.5 68.3 511.0 70.2 C507.5 72.2 506.9 72.2 504.0 72.9 C501.1 73.6 497.0 73.3 493.5 74.6 C490.0 75.9 486.5 78.3 483.0 80.5 C479.5 82.7 475.7 85.4 472.5 87.8 C469.3 90.1 467.2 92.5 464.0 94.5 C460.8 96.5 456.0 97.9 453.5 99.5 C451.0 101.1 450.2 102.2 449.0 104.0 C447.8 105.8 447.5 108.2 446.0 110.0 C444.5 111.8 442.0 113.3 440.0 114.5 C438.0 115.7 435.1 116.5 433.8 117.3 C432.6 118.1 432.3 118.9 432.5 119.5 C432.7 120.1 433.9 120.8 434.8 121.0 C435.6 121.2 436.9 120.2 437.8 120.5 C438.6 120.8 439.0 122.1 439.6 122.8 C440.2 123.4 440.5 124.4 441.1 124.6 C441.7 124.8 442.5 124.6 443.2 123.9 C443.9 123.2 444.7 121.6 445.2 120.5 C445.8 119.4 446.5 118.0 446.8 117.5 L451.6 114.1 L464.5 121 C466.2 122 466 123.4 464.75 123.9 L461.3 125.6 C460.3 126 459.6 125.9 458.7 125.5 L451.25 122.4 L445.3 127.4 C444.3 128.4 444.4 130.8 445.6 131.75 L453 135.8 C454.6 136.6 455.8 136.5 457.25 135.5" stroke="#111" stroke-width="1.6" fill="none" />
<path d="M457.2 135.5 C459.4 134.2 466.4 130.6 470.0 128.0 C473.6 125.4 476.5 122.2 479.0 119.8 C481.5 117.2 483.2 115.1 485.0 113.0 C486.8 110.9 486.8 110.0 490.0 107.0 C493.2 104.0 500.0 98.4 504.0 94.8 C508.0 91.1 510.5 88.2 514.0 85.0 C517.5 81.8 521.0 79.4 525.0 75.5 C529.0 71.6 534.5 65.0 538.0 61.5 C541.5 58.0 544.4 55.8 546.0 54.3 C547.6 52.8 547.5 52.7 547.6 52.2 C547.7 51.7 546.7 51.4 546.5 51.3" stroke="#111" stroke-width="1.5" fill="none" />
<ellipse cx="490.9" cy="96.5" rx="5.4" ry="2.3" stroke="#111" stroke-width="1.5" fill="none" transform="rotate(-38 490.9 96.5)"/>
<path d="M459.6 110.2 L463.6 107 C464.3 106.4 465 106.4 465.8 106.8 L477.5 113.3 C478.6 114 478.6 115 477.7 115.7 L473.8 118.5 C473 119.1 472.2 119.1 471.3 118.6 L459.8 112.3 C458.8 111.7 458.8 110.9 459.6 110.2Z" stroke="#111" stroke-width="1.5" fill="none" />
<g transform="translate(384.6 69) rotate(52)"><rect x="-2.6" y="-3.4" width="4.2" height="6.8" rx="1.4" fill="#222"/><rect x="1.6" y="-1.6" width="6.8" height="3.2" rx="1.2" fill="#aaa" stroke="#111" stroke-width="1"/></g>
<g transform="translate(358.6 88.6) rotate(52)"><rect x="-2.6" y="-3.4" width="4.2" height="6.8" rx="1.4" fill="#222"/><rect x="1.6" y="-1.6" width="6.8" height="3.2" rx="1.2" fill="#aaa" stroke="#111" stroke-width="1"/></g>
<line x1="390.25" y1="76.75" x2="467.5" y2="173.1" stroke="#2a2a2a" stroke-width="0.7"/>
<line x1="470.6" y1="178.1" x2="479.4" y2="188.75" stroke="#2a2a2a" stroke-width="0.7"/>
<line x1="363.25" y1="95.5" x2="438.1" y2="190" stroke="#2a2a2a" stroke-width="0.7"/>
<line x1="441.9" y1="194.4" x2="450" y2="203.75" stroke="#2a2a2a" stroke-width="0.7"/>
<ellipse cx="469" cy="175.6" rx="3.7" ry="2.1" stroke="#111" stroke-width="1.8" fill="#888" transform="rotate(-35 469 175.6)"/>
<ellipse cx="439.75" cy="192.25" rx="3.7" ry="2.1" stroke="#111" stroke-width="1.8" fill="#888" transform="rotate(-35 439.75 192.25)"/>
<line x1="507.5" y1="432" x2="723" y2="293.6" stroke="#111" stroke-width="1.2"/>
<line x1="514.5" y1="431.3" x2="728" y2="295.6" stroke="#111" stroke-width="1.0"/>
<line x1="523.1" y1="440.6" x2="735" y2="306" stroke="#111" stroke-width="1.1"/>
<line x1="533.75" y1="458.75" x2="746" y2="322" stroke="#111" stroke-width="1.1"/>
<line x1="540.6" y1="475.6" x2="753" y2="342.4" stroke="#111" stroke-width="1.2"/>
<path d="M723.0 293.6 C723.8 293.8 726.0 293.1 728.0 295.0 C730.0 296.9 732.0 300.5 735.0 305.0 C738.0 309.5 743.2 317.5 746.0 322.0 C748.8 326.5 750.7 329.2 752.0 332.0 C753.3 334.8 753.6 337.3 753.8 339.0 C754.0 340.7 753.1 341.8 753.0 342.4" stroke="#111" stroke-width="1.1" fill="none" />
<path d="M506.9 432.5 C507.5 431.2 509.4 429.7 511.2 430.0 C513.1 430.3 516.1 432.6 518.1 434.4 C520.1 436.2 521.3 438.0 523.1 440.6 C524.9 443.2 527.0 447.0 528.8 450.0 C530.5 453.0 532.2 455.8 533.8 458.8 C535.3 461.7 537.0 464.8 538.1 467.5 C539.2 470.2 540.3 473.2 540.6 475.0 C540.9 476.8 540.6 477.4 540.0 478.1 C539.4 478.8 538.4 479.5 536.9 479.4 C535.4 479.3 533.4 479.1 531.2 477.5 C529.1 475.9 526.2 473.1 523.8 470.0 C521.2 466.9 518.4 462.5 516.2 458.8 C514.1 455.0 512.1 451.0 510.6 447.5 C509.1 444.0 508.1 440.0 507.5 437.5 C506.9 435.0 506.3 433.8 506.9 432.5Z" stroke="#111" stroke-width="1.1" fill="none" />
<ellipse cx="523.2" cy="455" rx="12.9" ry="4.9" stroke="#111" stroke-width="1.5" fill="none" transform="rotate(60 523.2 455)"/>
<ellipse cx="524" cy="455.5" rx="11.2" ry="3.3" stroke="#111" stroke-width="0.9" fill="none" transform="rotate(60 524 455.5)"/>
<line x1="136.8" y1="190.5" x2="107" y2="248" stroke="#222" stroke-width="0.8"/>
<line x1="156" y1="190.2" x2="144" y2="216" stroke="#222" stroke-width="0.8"/>
<line x1="180" y1="190.2" x2="188.25" y2="202.5" stroke="#222" stroke-width="0.8"/>
<line x1="309.3" y1="190.5" x2="297.75" y2="200.25" stroke="#222" stroke-width="0.8"/>
<line x1="328.5" y1="192.75" x2="312.75" y2="210" stroke="#222" stroke-width="0.8"/>
<line x1="355.5" y1="192.75" x2="411" y2="273" stroke="#222" stroke-width="0.8"/>
<line x1="57.5" y1="323" x2="65.75" y2="273.5" stroke="#222" stroke-width="0.8"/>
<line x1="61.4" y1="325" x2="87.25" y2="307.25" stroke="#222" stroke-width="0.8"/>
<line x1="379.3" y1="356" x2="391" y2="333.5" stroke="#222" stroke-width="0.8"/>
<line x1="396.7" y1="356" x2="401.2" y2="349.25" stroke="#222" stroke-width="0.8"/>
<line x1="365.5" y1="64" x2="381.25" y2="69.25" stroke="#222" stroke-width="0.8"/>
<line x1="357.7" y1="68.5" x2="359.5" y2="86.5" stroke="#222" stroke-width="0.8"/>
<line x1="448.1" y1="168.1" x2="466.25" y2="174.4" stroke="#222" stroke-width="0.8"/>
<line x1="441.25" y1="171.9" x2="439.75" y2="189.4" stroke="#222" stroke-width="0.8"/>
<line x1="506.9" y1="16.9" x2="495.6" y2="43.1" stroke="#222" stroke-width="0.8"/>
<line x1="529.4" y1="16.9" x2="543.75" y2="50.6" stroke="#222" stroke-width="0.8"/>
<line x1="601.9" y1="61.9" x2="590.6" y2="81.25" stroke="#222" stroke-width="0.8"/>
<line x1="620" y1="61.9" x2="609.4" y2="83.75" stroke="#222" stroke-width="0.8"/>
<line x1="498.1" y1="118.1" x2="486.9" y2="137.5" stroke="#222" stroke-width="0.8"/>
<line x1="516.25" y1="118.1" x2="506.25" y2="139.4" stroke="#222" stroke-width="0.8"/>
<line x1="730" y1="190" x2="720.6" y2="165" stroke="#222" stroke-width="0.8"/>
<line x1="748.1" y1="190" x2="743.1" y2="176.9" stroke="#222" stroke-width="0.8"/>
<line x1="641.9" y1="255" x2="632.75" y2="230" stroke="#222" stroke-width="0.8"/>
<line x1="660.6" y1="255" x2="655" y2="241.9" stroke="#222" stroke-width="0.8"/>
<line x1="649.4" y1="408.75" x2="665" y2="425" stroke="#222" stroke-width="0.8"/>
<circle cx="142" cy="182.7" r="8.0" stroke="#222" stroke-width="0.8" fill="none"/>
<text x="142" y="186.29999999999998" font-size="10" font-weight="normal" text-anchor="middle" fill="#111" stroke="#111" stroke-width="0.4">3</text>
<circle cx="159.3" cy="182.7" r="8.0" stroke="#222" stroke-width="0.8" fill="none"/>
<text x="159.3" y="186.29999999999998" font-size="10" font-weight="normal" text-anchor="middle" fill="#111" stroke="#111" stroke-width="0.4">14</text>
<circle cx="176.3" cy="182.3" r="8.0" stroke="#222" stroke-width="0.8" fill="none"/>
<text x="176.3" y="185.9" font-size="10" font-weight="normal" text-anchor="middle" fill="#111" stroke="#111" stroke-width="0.4">4</text>
<circle cx="315.75" cy="185.7" r="8.0" stroke="#222" stroke-width="0.8" fill="none"/>
<text x="315.75" y="189.29999999999998" font-size="10" font-weight="normal" text-anchor="middle" fill="#111" stroke="#111" stroke-width="0.4">9</text>
<circle cx="333" cy="185.7" r="8.0" stroke="#222" stroke-width="0.8" fill="none"/>
<text x="333" y="189.29999999999998" font-size="10" font-weight="normal" text-anchor="middle" fill="#111" stroke="#111" stroke-width="0.4">10</text>
<circle cx="350.25" cy="185.7" r="8.0" stroke="#222" stroke-width="0.8" fill="none"/>
<text x="350.25" y="189.29999999999998" font-size="10" font-weight="normal" text-anchor="middle" fill="#111" stroke="#111" stroke-width="0.4">1</text>
<circle cx="55.1" cy="331.25" r="8.0" stroke="#222" stroke-width="0.8" fill="none"/>
<text x="55.1" y="334.85" font-size="10" font-weight="normal" text-anchor="middle" fill="#111" stroke="#111" stroke-width="0.4">13</text>
<circle cx="375.25" cy="363.5" r="8.0" stroke="#222" stroke-width="0.8" fill="none"/>
<text x="375.25" y="367.1" font-size="10" font-weight="normal" text-anchor="middle" fill="#111" stroke="#111" stroke-width="0.4">2</text>
<circle cx="392.5" cy="363.5" r="8.0" stroke="#222" stroke-width="0.8" fill="none"/>
<text x="392.5" y="367.1" font-size="10" font-weight="normal" text-anchor="middle" fill="#111" stroke="#111" stroke-width="0.4">5</text>
<circle cx="357.7" cy="60.25" r="8.0" stroke="#222" stroke-width="0.8" fill="none"/>
<text x="357.7" y="63.85" font-size="10" font-weight="normal" text-anchor="middle" fill="#111" stroke="#111" stroke-width="0.4">19</text>
<circle cx="440.4" cy="163.75" r="8.0" stroke="#222" stroke-width="0.8" fill="none"/>
<text x="440.4" y="167.35" font-size="10" font-weight="normal" text-anchor="middle" fill="#111" stroke="#111" stroke-width="0.4">20</text>
<circle cx="509.6" cy="8.1" r="8.0" stroke="#222" stroke-width="0.8" fill="none"/>
<text x="509.6" y="11.7" font-size="10" font-weight="normal" text-anchor="middle" fill="#111" stroke="#111" stroke-width="0.4">17</text>
<circle cx="526.6" cy="8.1" r="8.0" stroke="#222" stroke-width="0.8" fill="none"/>
<text x="526.6" y="11.7" font-size="10" font-weight="normal" text-anchor="middle" fill="#111" stroke="#111" stroke-width="0.4">18</text>
<circle cx="605.6" cy="54.4" r="8.0" stroke="#222" stroke-width="0.8" fill="none"/>
<text x="605.6" y="58.0" font-size="10" font-weight="normal" text-anchor="middle" fill="#111" stroke="#111" stroke-width="0.4">6</text>
<circle cx="623.75" cy="54.4" r="8.0" stroke="#222" stroke-width="0.8" fill="none"/>
<text x="623.75" y="58.0" font-size="10" font-weight="normal" text-anchor="middle" fill="#111" stroke="#111" stroke-width="0.4">7</text>
<circle cx="501.9" cy="110.6" r="8.0" stroke="#222" stroke-width="0.8" fill="none"/>
<text x="501.9" y="114.19999999999999" font-size="10" font-weight="normal" text-anchor="middle" fill="#111" stroke="#111" stroke-width="0.4">6</text>
<circle cx="519.75" cy="110.6" r="8.0" stroke="#222" stroke-width="0.8" fill="none"/>
<text x="519.75" y="114.19999999999999" font-size="10" font-weight="normal" text-anchor="middle" fill="#111" stroke="#111" stroke-width="0.4">7</text>
<circle cx="732.1" cy="198.1" r="8.0" stroke="#222" stroke-width="0.8" fill="none"/>
<text x="732.1" y="201.7" font-size="10" font-weight="normal" text-anchor="middle" fill="#111" stroke="#111" stroke-width="0.4">8</text>
<circle cx="749.1" cy="198.1" r="8.0" stroke="#222" stroke-width="0.8" fill="none"/>
<text x="749.1" y="201.7" font-size="10" font-weight="normal" text-anchor="middle" fill="#111" stroke="#111" stroke-width="0.4">7</text>
<circle cx="644.1" cy="263.5" r="8.0" stroke="#222" stroke-width="0.8" fill="none"/>
<text x="644.1" y="267.1" font-size="10" font-weight="normal" text-anchor="middle" fill="#111" stroke="#111" stroke-width="0.4">8</text>
<circle cx="661.5" cy="263.5" r="8.0" stroke="#222" stroke-width="0.8" fill="none"/>
<text x="661.5" y="267.1" font-size="10" font-weight="normal" text-anchor="middle" fill="#111" stroke="#111" stroke-width="0.4">7</text>
<circle cx="671.5" cy="431.9" r="8.0" stroke="#222" stroke-width="0.8" fill="none"/>
<text x="671.5" y="435.5" font-size="10" font-weight="normal" text-anchor="middle" fill="#111" stroke="#111" stroke-width="0.4">11</text>
<circle cx="716" cy="579" r="7.6" stroke="#222" stroke-width="0.8" fill="none"/>
<text x="716" y="582.6" font-size="10" font-weight="normal" text-anchor="middle" fill="#111" stroke="#111" stroke-width="0.4">31</text>
<circle cx="733.6" cy="579" r="7.6" stroke="#222" stroke-width="0.8" fill="none"/>
<text x="733.6" y="581.7" font-size="7.5" font-weight="bold" text-anchor="middle" fill="#111" stroke="#111" stroke-width="0.4">141</text>
<rect x="650" y="535.5" width="160" height="54.7" fill="none" stroke="#444" stroke-width="1.2"/>
<text x="653.6" y="550" font-size="12" textLength="134.8" lengthAdjust="spacingAndGlyphs" fill="#111" stroke="#111" stroke-width="0.45">Particolari non figuranti</text>
<text x="673.6" y="564.4" font-size="12" textLength="94.4" lengthAdjust="spacingAndGlyphs" fill="#111" stroke="#111" stroke-width="0.45">Not shown parts</text>
<text x="275.6" y="602.5" font-size="12.5" textLength="208.6" lengthAdjust="spacingAndGlyphs" fill="#111" stroke="#111" stroke-width="0.45">© Copyright 2019 Betamotor S.p.A.</text>
</svg>
</body></html>
